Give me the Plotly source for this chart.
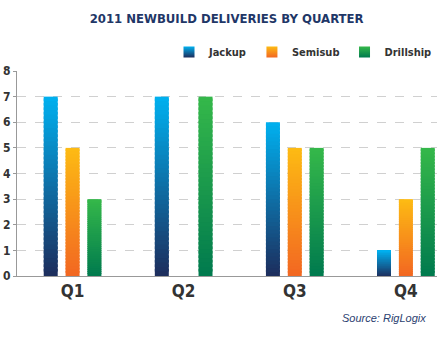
import plotly.graph_objects as go

# Newbuild rig deliveries in 2011, by quarter
quarters = ["Q1", "Q2", "Q3", "Q4"]
jackup = [7, 7, 6, 1]
semisub = [5, 0, 5, 3]
drillship = [3, 7, 5, 5]

series = [
    ("Jackup", jackup, "#1d2d5c", "#00b1f0"),
    ("Semisub", semisub, "#f26722", "#fdbb13"),
    ("Drillship", drillship, "#007a4e", "#35b84a"),
]

N_SEG = 40  # slices per bar used to build the vertical colour gradient


def hex_to_rgb(h):
    h = h.lstrip("#")
    return tuple(int(h[i:i + 2], 16) for i in (0, 2, 4))


def mix(c0, c1, t):
    a, b = hex_to_rgb(c0), hex_to_rgb(c1)
    return "rgb({},{},{})".format(*[round(a[i] + (b[i] - a[i]) * t) for i in range(3)])


fig = go.Figure()

for name, vals, bottom, top in series:
    for k in range(N_SEG):
        t = (k + 0.5) / N_SEG
        # each slice overlaps the next one slightly so no seams show
        lo = [v * k / N_SEG for v in vals]
        hi = [min(v * (k + 1.6) / N_SEG, v) for v in vals]
        fig.add_trace(go.Bar(
            x=quarters,
            y=[h - l for h, l in zip(hi, lo)],
            base=lo,
            offsetgroup=name,
            marker=dict(color=mix(bottom, top, t), line=dict(width=0)),
            showlegend=False,
            hoverinfo="skip",
        ))
    # legend entry with a gradient swatch
    fig.add_trace(go.Scatter(
        x=[None], y=[None], mode="markers", name=name,
        marker=dict(symbol="square", size=11, color=top,
                    gradient=dict(type="vertical", color=bottom),
                    line=dict(width=0)),
    ))

cond = "DejaVu Sans Condensed, Arial Narrow, sans-serif"

fig.update_layout(
    width=440, height=339,
    margin=dict(l=14, r=3, t=71, b=63),
    paper_bgcolor="white", plot_bgcolor="white",
    barmode="group", bargap=0.41, bargroupgap=0.36,
    title=dict(text="<b>2011 NEWBUILD DELIVERIES BY QUARTER</b>",
               x=0.515, xanchor="center", y=1 - 18 / 339, yanchor="middle",
               font=dict(family=cond, size=13, color="#1f3767")),
    legend=dict(orientation="h", x=1.0, xanchor="right", y=1.093, yanchor="middle",
                font=dict(family=cond, size=11, color="#333333", weight="bold"),
                bgcolor="rgba(0,0,0,0)", itemwidth=30, traceorder="normal"),
    xaxis=dict(range=[-0.5, 3.28], showgrid=False, showline=True,
               linecolor="#999999", linewidth=1, ticks="",
               tickfont=dict(family=cond, size=17, color="#333333", weight="bold")),
    yaxis=dict(range=[0, 8], dtick=1, showline=True, linecolor="#999999",
               linewidth=1, ticks="outside", ticklen=3, tickcolor="#999999",
               showgrid=True, gridcolor="#d0d0d0", griddash="dash", gridwidth=1,
               zeroline=False,
               tickfont=dict(family=cond, size=12, color="#333333", weight="bold")),
    annotations=[dict(text="<i>Source: RigLogix</i>", xref="paper", yref="paper",
                      x=(428 - 14) / 423, xanchor="right",
                      y=-(318 - 276) / 205, yanchor="middle", showarrow=False,
                      font=dict(family="Liberation Sans, Arial, sans-serif",
                                size=11, color="#2b4170"))],
)

fig.write_html("out.html")
